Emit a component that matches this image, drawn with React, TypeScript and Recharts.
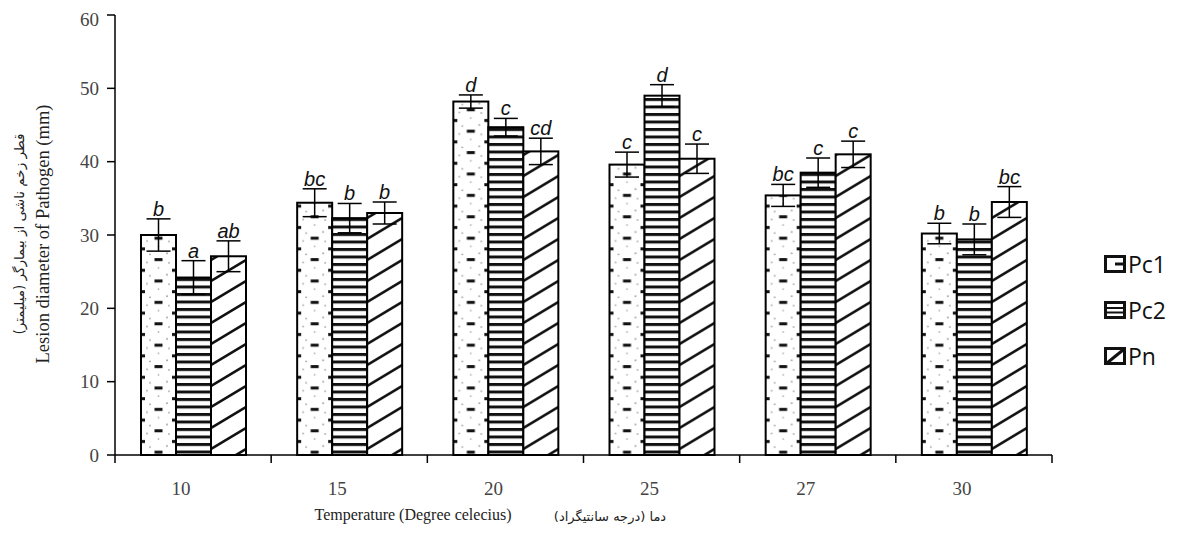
import React from 'react';
import { BarChart, Bar, XAxis, YAxis, ErrorBar } from 'recharts';

const categories = ['10', '15', '20', '25', '27', '30'];
const pc1Values = [30.0, 34.4, 48.2, 39.6, 35.4, 30.2];
const pc2Values = [24.2, 32.3, 44.7, 49.0, 38.5, 29.4];
const pnValues = [27.1, 33.0, 41.4, 40.4, 41.0, 34.5];
const pc1Errors = [2.2, 1.9, 0.9, 1.7, 1.5, 1.4];
const pc2Errors = [2.3, 2.0, 1.2, 1.5, 2.0, 2.1];
const pnErrors = [2.1, 1.5, 1.8, 2.0, 1.8, 2.1];
const pc1Letters = ['b', 'bc', 'd', 'c', 'bc', 'b'];
const pc2Letters = ['a', 'b', 'c', 'd', 'c', 'b'];
const pnLetters = ['ab', 'b', 'cd', 'c', 'c', 'bc'];
const yTicks = [0, 10, 20, 30, 40, 50, 60];
const seriesNames = ['Pc1', 'Pc2', 'Pn'];
const xTitle = 'Temperature (Degree celecius)';
const xTitleFa = 'دما (درجه سانتیگراد)';
const yTitle = 'Lesion diameter of Pathogen (mm)';
const yTitleFa = 'قطر زخم ناشی از بیمارگر (میلیمتر)';

const data = categories.map((cat, i) => ({
  cat,
  pc1: pc1Values[i],
  pc1Err: pc1Errors[i],
  pc1Letter: pc1Letters[i],
  pc2: pc2Values[i],
  pc2Err: pc2Errors[i],
  pc2Letter: pc2Letters[i],
  pn: pnValues[i],
  pnErr: pnErrors[i],
  pnLetter: pnLetters[i],
}));

const W = 1190;
const H = 537;
const MARGIN = { top: 7, right: 146, bottom: 60, left: 0 };
const Y_W = 107;
const PLOT_W = W - MARGIN.left - MARGIN.right - Y_W;
const HALF_BAND = PLOT_W / categories.length / 2;

const serif = '"Liberation Serif", "Times New Roman", serif';
const sans = '"Liberation Sans", Arial, sans-serif';

const makeShape = (patternId: string, key: string) => (props: any) => {
  const { x, y, width, height, payload } = props;
  if (!height || height <= 0) return null;
  const val = payload[key];
  const err = payload[key + 'Err'];
  const letter = payload[key + 'Letter'];
  const pxPer = height / val;
  const capY = y - err * pxPer;
  return (
    <g>
      <g transform={`translate(${x},0)`}>
        <rect x={0} y={y} width={width} height={height} fill="#fff" />
        <rect x={0} y={y} width={width} height={height} fill={`url(#${patternId})`} stroke="#000" strokeWidth={2} />
      </g>
      <text
        x={x + width / 2}
        y={capY - 3}
        textAnchor="middle"
        fontFamily={sans}
        fontStyle="italic"
        fontSize={20}
        fill="#111"
      >
        {letter}
      </text>
    </g>
  );
};

const XTick = (props: any) => {
  const { x, y, payload, index } = props;
  return (
    <g>
      <text x={x - 12} y={y + 40} textAnchor="middle" fontFamily={serif} fontSize={19} fill="#444">
        {payload.value}
      </text>
      <line x1={x + HALF_BAND} x2={x + HALF_BAND} y1={y} y2={y + 8} stroke="#000" strokeWidth={1.5} />
      {index === 0 ? (
        <line x1={x - HALF_BAND} x2={x - HALF_BAND} y1={y} y2={y + 8} stroke="#000" strokeWidth={1.5} />
      ) : null}
    </g>
  );
};

const LegendIcon = ({ i }: { i: number }) => (
  <svg width={22} height={18} style={{ display: 'block' }}>
    <rect x={1.5} y={1.5} width={19} height={15} fill="#fff" stroke="#111" strokeWidth={3} />
    {i === 0 ? <line x1={11} x2={19} y1={9} y2={9} stroke="#111" strokeWidth={3} /> : null}
    {i === 1 ? (
      <g>
        <line x1={2} x2={20} y1={7} y2={7} stroke="#111" strokeWidth={2} />
        <line x1={2} x2={20} y1={11.5} y2={11.5} stroke="#111" strokeWidth={2} />
      </g>
    ) : null}
    {i === 2 ? <line x1={3} x2={19} y1={16} y2={3} stroke="#111" strokeWidth={3} /> : null}
  </svg>
);

const legendTops = [264, 310, 356];

export default function App() {
  return (
    <div style={{ position: 'relative', width: W, height: H, background: '#fff' }}>
      <BarChart width={W} height={H} data={data} margin={MARGIN} barSize={35} barGap={0}>
        <defs>
          <pattern id="patPc1" patternUnits="userSpaceOnUse" x={0} y={0} width={35} height={21.4}>
            <rect x={0} y={0} width={35} height={21.4} fill="#fff" />
            <rect x={-4} y={4} width={8} height={3} fill="#111" />
            <rect x={31} y={4} width={8} height={3} fill="#111" />
            <rect x={13.5} y={14.7} width={8} height={3} fill="#111" />
            <circle cx={9} cy={11} r={0.9} fill="#999" />
            <circle cx={26} cy={10} r={0.9} fill="#999" />
            <circle cx={6} cy={19} r={0.9} fill="#aaa" />
            <circle cx={28} cy={19.5} r={0.9} fill="#aaa" />
            <circle cx={17.5} cy={3} r={0.9} fill="#aaa" />
          </pattern>
          <pattern id="patPc2" patternUnits="userSpaceOnUse" x={0} y={0} width={35} height={7.5}>
            <rect x={0} y={0} width={35} height={7.5} fill="#fff" />
            <rect x={0} y={0} width={35} height={3} fill="#111" />
          </pattern>
          <pattern id="patPn" patternUnits="userSpaceOnUse" x={0} y={0} width={35} height={21}>
            <rect x={0} y={0} width={35} height={21} fill="#fff" />
            <path
              d="M-10,48 L45,15 M-10,27 L45,-6 M-10,6 L45,-27"
              stroke="#111"
              strokeWidth={2.6}
              fill="none"
            />
          </pattern>
        </defs>
        <XAxis
          dataKey="cat"
          interval={0}
          height={30}
          tickSize={0}
          tickMargin={0}
          tickLine={false}
          axisLine={{ stroke: '#000', strokeWidth: 1.5 }}
          tick={<XTick />}
        />
        <YAxis
          domain={[0, 60]}
          ticks={yTicks}
          width={Y_W}
          tickSize={8}
          tickMargin={8}
          axisLine={{ stroke: '#000', strokeWidth: 1.5 }}
          tickLine={{ stroke: '#000', strokeWidth: 1.5 }}
          tick={{ fontSize: 19, fill: '#444', fontFamily: serif }}
        />
        <Bar dataKey="pc1" name={seriesNames[0]} isAnimationActive={false} shape={makeShape('patPc1', 'pc1')}>
          <ErrorBar dataKey="pc1Err" width={12} stroke="#000" strokeWidth={1.5} direction="y" />
        </Bar>
        <Bar dataKey="pc2" name={seriesNames[1]} isAnimationActive={false} shape={makeShape('patPc2', 'pc2')}>
          <ErrorBar dataKey="pc2Err" width={12} stroke="#000" strokeWidth={1.5} direction="y" />
        </Bar>
        <Bar dataKey="pn" name={seriesNames[2]} isAnimationActive={false} shape={makeShape('patPn', 'pn')}>
          <ErrorBar dataKey="pnErr" width={12} stroke="#000" strokeWidth={1.5} direction="y" />
        </Bar>
      </BarChart>

      <div
        style={{
          position: 'absolute',
          left: 405,
          top: 507,
          transform: 'translate(-50%, -50%)',
          whiteSpace: 'nowrap',
          fontFamily: serif,
          fontSize: 16,
          color: '#222',
        }}
      >
        {xTitle}
      </div>
      <div
        dir="rtl"
        style={{
          position: 'absolute',
          left: 602,
          top: 508,
          transform: 'translate(-50%, -50%)',
          whiteSpace: 'nowrap',
          fontFamily: '"DejaVu Sans", sans-serif',
          fontSize: 13,
          color: '#222',
        }}
      >
        {xTitleFa}
      </div>
      <div
        style={{
          position: 'absolute',
          left: 35,
          top: 226,
          transform: 'translate(-50%, -50%) rotate(-90deg)',
          whiteSpace: 'nowrap',
          fontFamily: serif,
          fontSize: 18.5,
          color: '#222',
        }}
      >
        {yTitle}
      </div>
      <div
        dir="rtl"
        style={{
          position: 'absolute',
          left: 11,
          top: 226,
          transform: 'translate(-50%, -50%) rotate(-90deg)',
          whiteSpace: 'nowrap',
          fontFamily: '"DejaVu Sans", sans-serif',
          fontSize: 13.5,
          color: '#222',
        }}
      >
        {yTitleFa}
      </div>

      {seriesNames.map((name, i) => (
        <div
          key={name}
          style={{
            position: 'absolute',
            left: 1096,
            top: legendTops[i] - 8,
            transform: 'translateY(-50%)',
            display: 'flex',
            alignItems: 'center',
            gap: 2,
            fontFamily: '"Open Sans", sans-serif',
            fontSize: 23,
            color: '#111',
          }}
        >
          <LegendIcon i={i} />
          <span>{name}</span>
        </div>
      ))}
    </div>
  );
}
